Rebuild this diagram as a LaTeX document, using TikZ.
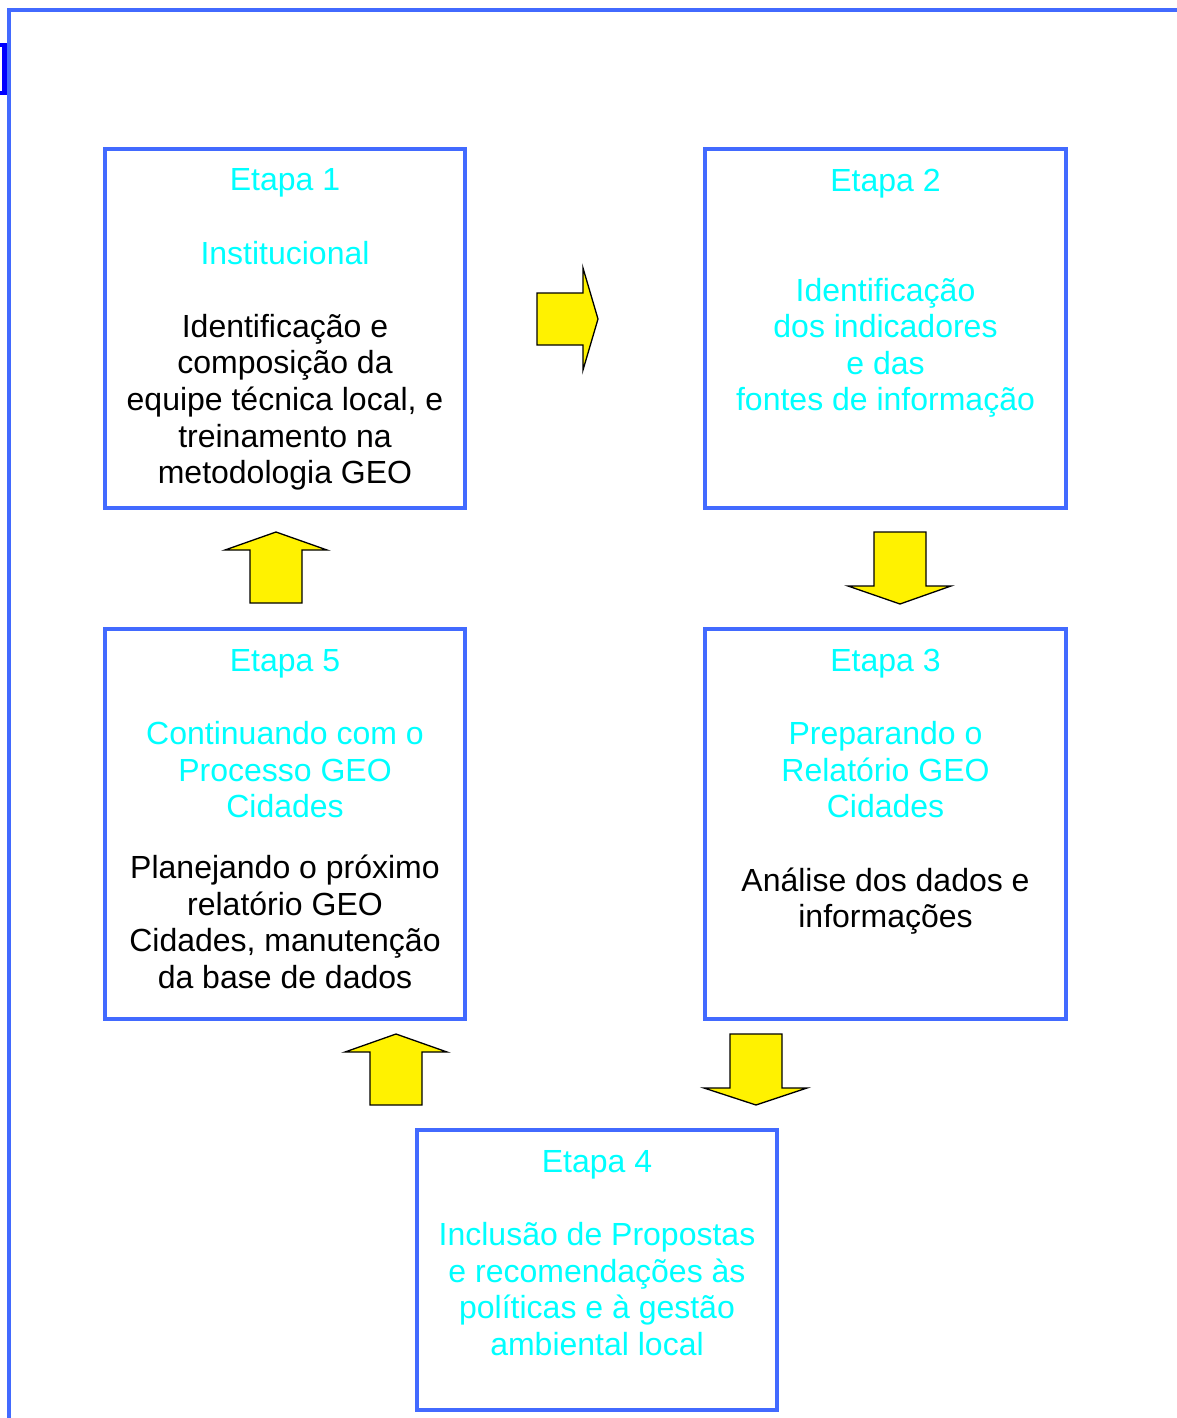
\documentclass[tikz,border=0pt]{standalone}
\usepackage{fontspec}
\setmainfont{Liberation Sans}
\usetikzlibrary{positioning}
\definecolor{frameblue}{RGB}{66,106,255}
\definecolor{barblue}{RGB}{0,0,255}
\definecolor{etapacyan}{RGB}{0,255,255}
\tikzset{
  stage/.style={draw=frameblue, line width=4pt, inner sep=0pt,
    minimum width=360.6pt},
  stagetext/.style={align=center, inner sep=0pt, text=etapacyan,
    font=\fontsize{32}{36.6}\selectfont},
  blockarrow/.style={draw=black, line width=1.3pt, fill=yellow,
    line join=miter}
}
\begin{document}
\begin{tikzpicture}[x=1pt,y=-1pt]
  \useasboundingbox (0,0) rectangle (1177,1418);
  % outer frame
  \draw[frameblue, line width=3.8pt] (9,1430) -- (9,10) -- (1190,10);
  \draw[barblue, line width=4.5pt] (-10,45) rectangle (4.5,93);

  % stages
  \node[stage, minimum height=359pt] (s1) at (285,328.25) {};
  \node[stage, minimum height=359pt] (s2) at (885.5,328.25) {};
  \node[stage, minimum height=390pt] (s5) at (285,824) {};
  \node[stage, minimum height=390pt] (s3) at (885.5,824) {};
  \node[stage, minimum height=279.7pt] (s4) at (597,1269.9) {};

  \node[stagetext, below=22pt of s1.north] (t1) {Etapa 1\\[36.6pt]
    Institucional\\[36.6pt]
    \color{black}Identificação e\\\color{black}composição da\\
    \color{black}equipe técnica local, e\\
    \color{black}treinamento na\\\color{black}metodologia GEO};
  \node[stagetext, below=22pt of s2.north] (t2) {Etapa 2\\[73.2pt]
    Identificação\\dos indicadores\\e das\\fontes de informação};
  \node[stagetext, below=22pt of s3.north] (t3) {Etapa 3\\[36.6pt]
    Preparando o\\Relatório GEO\\Cidades\\[36.6pt]
    \color{black}Análise dos dados e\\\color{black}informações};
  \node[stagetext, below=22pt of s4.north] (t4) {Etapa 4\\[36.6pt]
    Inclusão de Propostas\\e recomendações às\\políticas e à gestão\\
    ambiental local};
  \node[stagetext, below=22pt of s5.north] (t5) {Etapa 5\\[36.6pt]
    Continuando com o\\Processo GEO\\Cidades\\[24.4pt]
    \color{black}Planejando o próximo\\\color{black}relatório GEO\\
    \color{black}Cidades, manutenção\\\color{black}da base de dados};

  % block arrows
  \draw[blockarrow] (537,293) -- (583,293) -- (583,268) -- (598,319)
    -- (583,370) -- (583,345) -- (537,345) -- cycle;
  \draw[blockarrow] (874,532) -- (926,532) -- (926,586) -- (951,586)
    -- (900,604) -- (848,586) -- (874,586) -- cycle;
  \draw[blockarrow] (730,1034) -- (782,1034) -- (782,1088) -- (807,1088)
    -- (756,1105) -- (704,1088) -- (730,1088) -- cycle;
  \draw[blockarrow] (370,1105) -- (422,1105) -- (422,1052) -- (447,1052)
    -- (396,1034) -- (345,1052) -- (370,1052) -- cycle;
  \draw[blockarrow] (250,603) -- (302,603) -- (302,550) -- (327,550)
    -- (276,532) -- (225,550) -- (250,550) -- cycle;
\end{tikzpicture}
\end{document}
